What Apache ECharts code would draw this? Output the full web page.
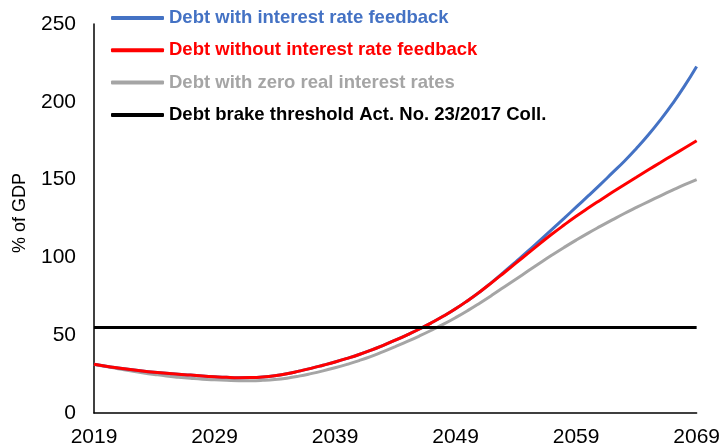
<!DOCTYPE html>
<html>
<head>
<meta charset="utf-8">
<script src="https://cdn.jsdelivr.net/npm/echarts@6/dist/echarts.min.js"></script>
<style>
  html, body { margin: 0; padding: 0; background: #fff; }
  #chart { width: 723px; height: 448px; }
</style>
</head>
<body>
<div id="chart"></div>
<script>
const years = [];
for (let y = 2019; y <= 2069; y++) years.push(String(y));

// % of GDP
const debtWithFeedback = [
  31.3, 30.0, 28.9, 27.9, 27.0, 26.2, 25.5, 24.9, 24.4, 23.8,
  23.3, 22.9, 22.7, 22.8, 23.2, 24.0, 25.2, 26.9, 28.7, 30.7,
  32.8, 35.1, 37.6, 40.4, 43.5, 46.8, 50.3, 54.0, 58.0, 62.3,
  67.0, 72.2, 77.8, 84.0, 90.5, 97.2, 104.0, 111.0, 118.0, 125.1,
  132.3, 139.5, 146.8, 154.3, 161.8, 170.0, 178.8, 188.4, 198.8, 210.2,
  222.7
];
const debtWithoutFeedback = [
  31.3, 30.0, 28.9, 27.9, 27.0, 26.2, 25.5, 24.9, 24.4, 23.8,
  23.3, 22.9, 22.7, 22.8, 23.2, 24.0, 25.2, 26.9, 28.7, 30.7,
  32.8, 35.1, 37.6, 40.4, 43.5, 46.8, 50.3, 54.0, 58.0, 62.3,
  67.0, 72.2, 77.8, 83.8, 90.0, 96.3, 102.6, 108.9, 115.0, 120.8,
  126.4, 131.7, 136.8, 141.8, 146.7, 151.5, 156.3, 161.0, 165.7, 170.3,
  175.0
];
const debtZeroReal = [
  31.3, 29.8, 28.4, 27.1, 25.9, 24.8, 23.8, 23.0, 22.3, 21.7,
  21.3, 21.0, 20.8, 20.8, 21.0, 21.5, 22.4, 23.7, 25.3, 27.1,
  29.1, 31.3, 33.7, 36.4, 39.5, 42.7, 46.0, 49.5, 53.2, 57.1,
  61.3, 65.8, 70.6, 75.6, 80.8, 86.0, 91.2, 96.4, 101.5, 106.4,
  111.1, 115.6, 119.9, 124.1, 128.2, 132.1, 135.9, 139.6, 143.2, 146.7,
  150.0
];
const debtBrake = 55;

const names = [
  'Debt with interest rate feedback',
  'Debt without interest rate feedback',
  'Debt with zero real interest rates',
  'Debt brake threshold Act. No. 23/2017 Coll.'
];
const colors = ['#4472C4', '#FF0000', '#A5A5A5', '#000000'];

const chart = echarts.init(document.getElementById('chart'));

const lineSeries = (i, data) => ({
  name: names[i],
  type: 'line',
  data: data,
  smooth: true,
  showSymbol: false,
  symbol: 'none',
  color: colors[i],
  lineStyle: { color: colors[i], width: 3 }
});

chart.setOption({
  animation: false,
  backgroundColor: '#fff',
  textStyle: { fontFamily: 'Liberation Sans, Arial, sans-serif' },
  grid: { left: 94, right: 25, top: 24, bottom: 34, containLabel: false },
  legend: {
    orient: 'vertical',
    left: 106,
    top: 3,
    itemWidth: 53,
    itemHeight: 4,
    itemGap: 12.3,
    icon: 'roundRect',
    selectedMode: false,
    textStyle: { fontSize: 18.5, fontWeight: 'bold', lineHeight: 20 },
    data: names.map((n, i) => ({ name: n, textStyle: { color: colors[i] } }))
  },
  graphic: [{
    type: 'text',
    x: 20,
    y: 213,
    rotation: Math.PI / 2,
    style: {
      text: '% of GDP',
      fill: '#000',
      font: '18px "Liberation Sans", Arial, sans-serif',
      align: 'center',
      verticalAlign: 'middle'
    }
  }],
  xAxis: {
    type: 'category',
    data: years,
    boundaryGap: false,
    axisLine: { lineStyle: { color: '#000', width: 1.5 } },
    axisTick: { show: false },
    axisLabel: { interval: 9, color: '#000', fontSize: 21, margin: 14 }
  },
  yAxis: {
    type: 'value',
    min: 0,
    max: 250,
    interval: 50,
    axisLine: { show: true, lineStyle: { color: '#000', width: 1.5 } },
    axisTick: { show: false },
    splitLine: { show: false },
    axisLabel: { color: '#000', fontSize: 21, margin: 18 }
  },
  series: [
    lineSeries(2, debtZeroReal),
    lineSeries(0, debtWithFeedback),
    lineSeries(1, debtWithoutFeedback),
    {
      name: names[3],
      type: 'line',
      data: [],
      color: colors[3],
      lineStyle: { color: colors[3], width: 3 },
      markLine: {
        silent: true,
        symbol: 'none',
        label: { show: false },
        lineStyle: { color: colors[3], width: 3, type: 'solid' },
        data: [{ yAxis: debtBrake }]
      }
    }
  ]
});
</script>
</body>
</html>
